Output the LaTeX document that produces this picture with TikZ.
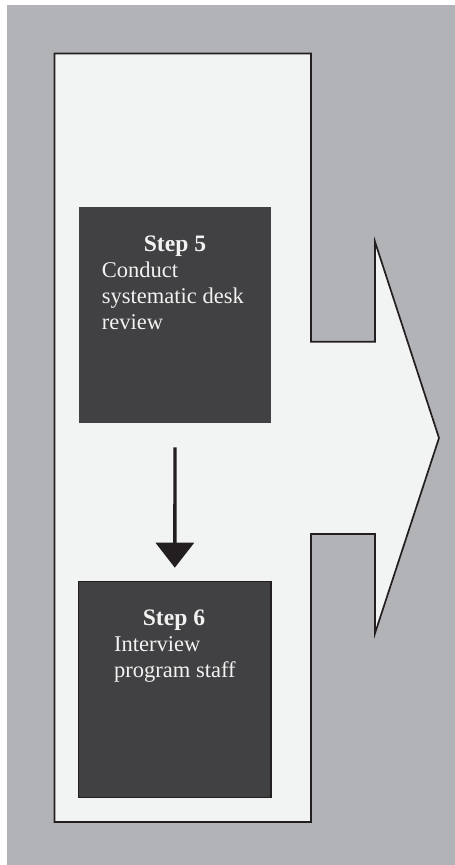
\documentclass[tikz,border=0pt]{standalone}
\usepackage{fontspec}
\setmainfont{Liberation Serif}
\usetikzlibrary{arrows.meta}
\definecolor{bggray}{HTML}{B2B3B6}
\definecolor{panel}{HTML}{F2F4F3}
\definecolor{darkbox}{HTML}{414143}
\definecolor{ink}{HTML}{231F20}
\definecolor{paper}{HTML}{F2F2F2}
\tikzset{
  stepbox/.style={rectangle, fill=darkbox, inner sep=0pt, outer sep=0pt},
  steptitle/.style={anchor=base, inner sep=0pt, text=paper, font=\fontsize{23.6pt}{26pt}\selectfont\bfseries},
  steptext/.style={anchor=base west, inner sep=0pt, text=paper, font=\fontsize{22.5pt}{26pt}\selectfont},
}
\begin{document}
\begin{tikzpicture}[x=1pt,y=-1pt]
\useasboundingbox (0,0) rectangle (455,865);
\fill[white] (0,0) rectangle (455,865);
\fill[bggray] (7,5) rectangle (455,865);
% panel arrow shape
\draw[ink, line width=1.7pt, fill=panel, line join=miter]
  (54.5,53.5) -- (311,53.5) -- (311,341.7) -- (375,341.7) -- (375,241.7)
  -- (439,438) -- (375,633.3) -- (375,534) -- (311,534) -- (311,822)
  -- (54.5,822) -- cycle;
% step boxes
\node[stepbox, minimum width=192pt, minimum height=216.6pt] (s5) at (175,315) {};
\node[stepbox, draw=ink, line width=1.3pt, minimum width=192.4pt, minimum height=216pt] (s6) at (174.8,689.7) {};
% texts
\node[steptitle] (t5) at (175,251.7) {Step 5};
\node[steptext] (b5a) at (101.7,277.3) {Conduct};
\node[steptext] (b5b) at (101.7,303.3) {systematic desk};
\node[steptext] (b5c) at (101.7,329.3) {review};
\node[steptitle] (t6) at (174,625) {Step 6};
\node[steptext] (b6a) at (114,651.7) {Interview};
\node[steptext] (b6b) at (114,677.7) {program staff};
% connector
\draw[ink, line width=3.3pt, -{Triangle[width=38pt,length=25pt]}, shorten <=24pt, shorten >=14pt]
  (s5.south) -- (s6.north);
\end{tikzpicture}
\end{document}
